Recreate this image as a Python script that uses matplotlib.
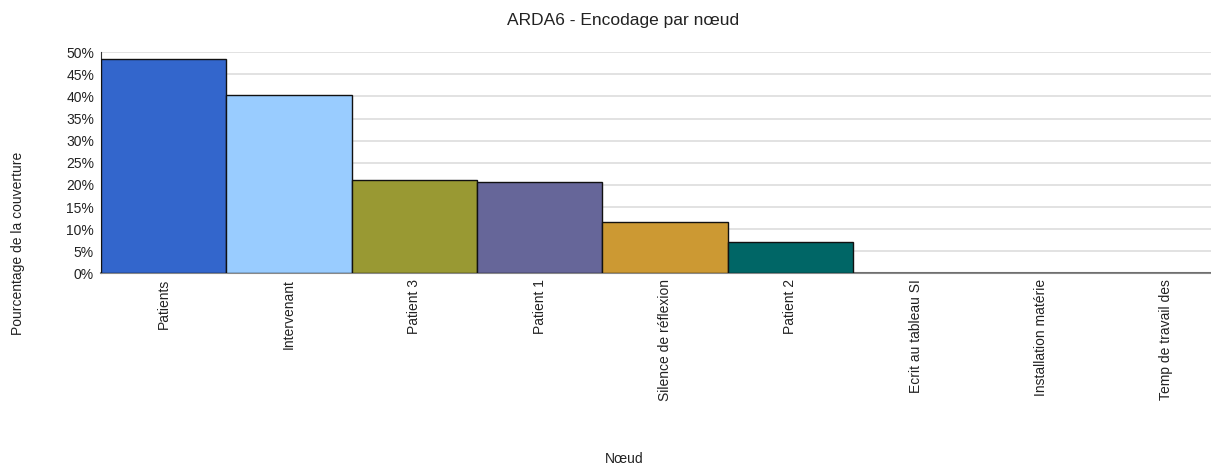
import numpy as np
import matplotlib.pyplot as plt
from matplotlib.ticker import FuncFormatter

plt.rcParams['font.family'] = ['Liberation Sans', 'DejaVu Sans']

categories = ['Patients', 'Intervenant', 'Patient 3', 'Patient 1', 'Silence de réflexion',
              'Patient 2', 'Ecrit au tableau SI', 'Installation matérie', 'Temp de travail des']
values = [48.4, 40.3, 21.1, 20.7, 11.5, 7.15, 0, 0, 0]
colors = ['#3366CC', '#99CCFF', '#999933', '#666699', '#CC9933', '#006666',
          '#993300', '#669999', '#CCCC99']

W, H = 1211, 465
fig = plt.figure(figsize=(W/100, H/100), dpi=100)

# axes runs a bit past the right edge, like the reference
left, right, bottom, top = 101, 1229, 273.3, 52.3
ax = fig.add_axes([left/W, 1 - bottom/H, (right-left)/W, (bottom-top)/H])

x = np.arange(len(categories))
ax.bar(x, values, width=1.0, color=colors, edgecolor='#111111', linewidth=1.0, zorder=3)

ax.set_xlim(-0.5, len(categories) - 0.5)
ax.set_ylim(0, 50)
ax.set_yticks(np.arange(0, 51, 5))
ax.yaxis.set_major_formatter(FuncFormatter(lambda v, p: f'{int(v)}%'))
ax.grid(axis='y', color='#dddddd', linewidth=1.2, zorder=0)

ax.set_xticks(x)
ax.set_xticklabels(categories, rotation=90, va='top', ha='center')
ax.tick_params(axis='x', length=0, pad=4, labelsize=10, colors='#222222')
ax.tick_params(axis='y', length=0, pad=5, labelsize=10, colors='#222222')

for s in ['top', 'right']:
    ax.spines[s].set_visible(False)
ax.spines['left'].set_color('#333333')
ax.spines['bottom'].set_color('#888888')
ax.spines['bottom'].set_linewidth(1.5)

fig.text(623/W, 1 - 20/H, 'ARDA6 - Encodage par nœud', ha='center', va='center',
         fontsize=12.5, color='#222222')
fig.text(624/W, 1 - 459/H, 'Nœud', ha='center', va='center', fontsize=10, color='#222222')
fig.text(18/W, 1 - 243/H, 'Pourcentage de la couverture', rotation=90, ha='center',
         va='center', fontsize=10, color='#222222')

fig.savefig('out.png', dpi=100)
